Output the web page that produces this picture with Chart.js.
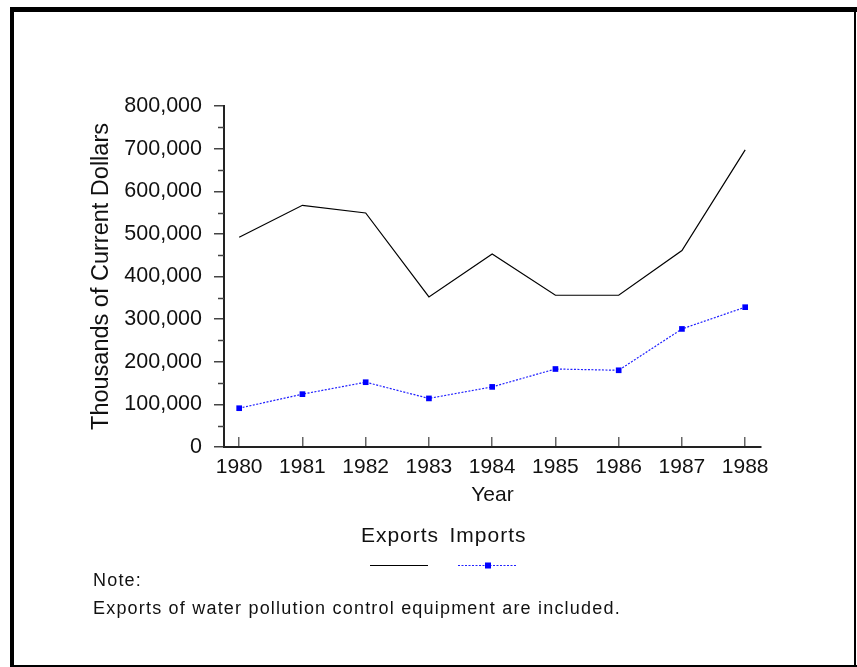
<!DOCTYPE html>
<html>
<head>
<meta charset="utf-8">
<script src="https://cdn.jsdelivr.net/npm/chart.js@4.4.1/dist/chart.umd.min.js"></script>
<style>
  html, body { margin: 0; padding: 0; background: #fff; }
  #wrap { width: 857px; height: 667px; position: relative; }
</style>
</head>
<body>
<div id="wrap"><canvas id="c" width="857" height="667"></canvas></div>
<script>
// ---- Data ----
const years = [1980, 1981, 1982, 1983, 1984, 1985, 1986, 1987, 1988];
const exportsValues = [492000, 567000, 549000, 352000, 453000, 356000, 356000, 461000, 697000];
const importsValues = [91000, 124000, 152000, 114000, 141000, 183000, 180000, 277000, 328000];
const yTickValues = [0, 100000, 200000, 300000, 400000, 500000, 600000, 700000, 800000];
const yMinorTickValues = [50000, 150000, 250000, 350000, 450000, 550000, 650000, 750000];
const seriesNames = ['Exports', 'Imports'];
const xTitle = 'Year';
const yTitle = 'Thousands of Current Dollars';
const noteLines = ['Note:', 'Exports of water pollution control equipment are included.'];

const FONT = "'Liberation Sans', Arial, sans-serif";

const framePlugin = {
  id: 'frame',
  beforeDraw(chart) {
    const ctx = chart.ctx;
    ctx.save();
    ctx.fillStyle = '#fff';
    ctx.fillRect(0, 0, chart.width, chart.height);
    ctx.fillStyle = '#000';
    ctx.fillRect(10, 7, 847, 5);   // top
    ctx.fillRect(10, 7, 4, 660);   // left
    ctx.fillRect(10, 665, 847, 2); // bottom
    ctx.fillRect(854, 7, 2, 660);  // right
    ctx.restore();
  }
};

const minorTickPlugin = {
  id: 'minorTicks',
  afterDraw(chart) {
    const s = chart.scales.y;
    const ctx = chart.ctx;
    ctx.save();
    ctx.strokeStyle = '#444';
    ctx.lineWidth = 1.5;
    yMinorTickValues.forEach(v => {
      const py = Math.round(s.getPixelForValue(v)) + 0.5;
      ctx.beginPath();
      ctx.moveTo(s.right - 6, py);
      ctx.lineTo(s.right, py);
      ctx.stroke();
    });
    ctx.restore();
  }
};

const legendNotePlugin = {
  id: 'legendNote',
  afterDraw(chart) {
    const ctx = chart.ctx;
    ctx.save();
    const centers = [400, 488];
    ctx.font = '21px ' + FONT;
    ctx.fillStyle = '#111';
    ctx.textAlign = 'center';
    ctx.textBaseline = 'middle';
    try { ctx.letterSpacing = '1px'; } catch (e) {}
    chart.data.datasets.forEach((ds, i) => {
      const cx = centers[i];
      ctx.fillText(ds.label, cx, 536);
      ctx.save();
      ctx.strokeStyle = ds.borderColor;
      ctx.lineWidth = ds.borderWidth;
      ctx.setLineDash(ds.borderDash || []);
      ctx.beginPath();
      ctx.moveTo(cx - 30, 565.5);
      ctx.lineTo(cx + 28, 565.5);
      ctx.stroke();
      ctx.setLineDash([]);
      if (ds.pointRadius > 0) {
        ctx.fillStyle = ds.pointBackgroundColor;
        ctx.fillRect(cx - 3, 562.5, 6, 6);
      }
      ctx.restore();
    });
    ctx.textAlign = 'left';
    ctx.font = '18px ' + FONT;
    ctx.fillStyle = '#111';
    try { ctx.letterSpacing = '1.2px'; } catch (e) {}
    ctx.fillText(noteLines[0], 93, 581);
    ctx.fillText(noteLines[1], 93, 609);
    ctx.restore();
  }
};

const chart = new Chart(document.getElementById('c').getContext('2d'), {
  type: 'line',
  data: {
    datasets: [
      {
        label: seriesNames[0],
        data: years.map((yr, i) => ({ x: yr, y: exportsValues[i] })),
        borderColor: '#000',
        borderWidth: 1.2,
        pointRadius: 0,
        tension: 0,
        fill: false
      },
      {
        label: seriesNames[1],
        data: years.map((yr, i) => ({ x: yr, y: importsValues[i] })),
        borderColor: '#2020ff',
        borderWidth: 1.2,
        borderDash: [2, 1.5],
        pointStyle: 'rect',
        pointRadius: 4,
        pointBackgroundColor: '#0000ff',
        pointBorderColor: '#0000ff',
        pointBorderWidth: 0,
        tension: 0,
        fill: false
      }
    ]
  },
  options: {
    responsive: false,
    animation: false,
    devicePixelRatio: 1,
    layout: { padding: { left: 80, top: 106, right: 96, bottom: 158 } },
    plugins: { legend: { display: false }, tooltip: { enabled: false } },
    scales: {
      x: {
        type: 'linear',
        min: 1979.76,
        max: 1988.25,
        afterBuildTicks: s => { s.ticks = years.map(v => ({ value: v })); },
        afterFit: s => { s.height = 62; },
        grid: { drawOnChartArea: false, tickLength: -10, color: '#666', lineWidth: 1.5 },
        border: { color: '#222', width: 2 },
        ticks: {
          autoSkip: false, maxRotation: 0, padding: 18, color: '#111',
          font: { family: FONT, size: 21 },
          callback: v => String(v)
        },
        title: { display: true, text: xTitle, color: '#111', font: { family: FONT, size: 21 }, padding: { top: 0, bottom: 1 } }
      },
      y: {
        min: 0,
        max: 800000,
        afterBuildTicks: s => { s.ticks = yTickValues.map(v => ({ value: v })); },
        afterFit: s => { s.width = 144; },
        grid: { drawOnChartArea: false, tickLength: 10, color: '#444', lineWidth: 1.5 },
        border: { color: '#222', width: 2 },
        ticks: {
          padding: 12, color: '#111',
          font: { family: FONT, size: 21.5 },
          callback: v => v.toLocaleString('en-US')
        },
        title: { display: true, text: yTitle, color: '#111', font: { family: FONT, size: 23.5 }, padding: { top: 7.5, bottom: 0 } }
      }
    }
  },
  plugins: [framePlugin, minorTickPlugin, legendNotePlugin]
});
</script>
</body>
</html>
